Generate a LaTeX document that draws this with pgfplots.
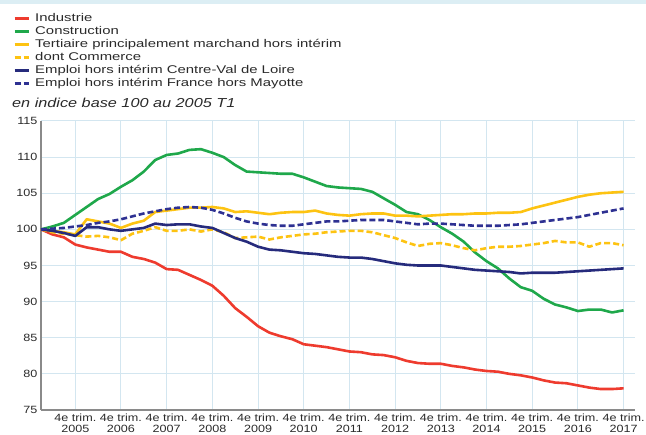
\documentclass[border=0pt]{standalone}
\usepackage{fontspec}
\setmainfont{Liberation Sans}
\newfontfamily\legfont{Liberation Sans}[FakeStretch=1.33]
\newfontfamily\tickfont{Liberation Sans}[FakeStretch=1.2]
\newfontfamily\subfont{Liberation Sans}[FakeStretch=1.25]
\usepackage{pgfplots}
\usepackage{pgfplotstable}
\pgfplotsset{compat=1.18}
\definecolor{cInd}{HTML}{EE3B2E}
\definecolor{cCon}{HTML}{1FA84B}
\definecolor{cTer}{HTML}{FDC312}
\definecolor{cCvl}{HTML}{262B7C}
\definecolor{cFra}{HTML}{2E3192}
\definecolor{cGrid}{HTML}{D3E6F0}
\definecolor{cAxis}{HTML}{8A8A8A}
\definecolor{cText}{HTML}{2A2A2A}
\definecolor{cBand}{HTML}{DCEEF4}
\pgfplotstableread{
q ind con ter com cvl fra
0 100 100 100 100 100 100
1 99.3 100.4 99.8 99.6 99.8 100.1
2 98.9 100.9 99.6 99.4 99.5 100.2
3 97.9 102.0 99.3 99.2 99.1 100.4
4 97.5 103.1 101.4 99.0 100.3 100.6
5 97.2 104.2 101.1 99.1 100.3 100.9
6 96.9 104.9 100.8 98.9 100.0 101.1
7 96.9 105.9 100.2 98.5 99.8 101.4
8 96.2 106.8 100.8 99.4 100.0 101.8
9 95.9 108.0 101.2 99.8 100.2 102.2
10 95.4 109.6 102.4 100.3 100.8 102.5
11 94.5 110.3 102.6 99.8 100.6 102.8
12 94.4 110.5 102.8 99.8 100.7 103.0
13 93.7 111.0 103.0 100.0 100.7 103.1
14 93.0 111.1 103.0 99.7 100.4 103.0
15 92.2 110.6 103.1 100.0 100.2 102.7
16 90.8 110.0 102.9 99.6 99.5 102.2
17 89.1 108.9 102.4 98.8 98.8 101.6
18 87.9 108.0 102.5 98.9 98.3 101.1
19 86.6 107.9 102.3 99.0 97.6 100.8
20 85.7 107.8 102.1 98.6 97.2 100.6
21 85.2 107.7 102.3 98.9 97.1 100.5
22 84.8 107.7 102.4 99.1 96.9 100.5
23 84.1 107.2 102.4 99.3 96.7 100.7
24 83.9 106.6 102.6 99.4 96.6 100.9
25 83.7 106.0 102.2 99.6 96.4 101.1
26 83.4 105.8 102.0 99.7 96.2 101.1
27 83.1 105.7 101.9 99.8 96.1 101.2
28 83.0 105.6 102.1 99.8 96.1 101.3
29 82.7 105.2 102.2 99.6 95.9 101.3
30 82.6 104.3 102.2 99.2 95.6 101.3
31 82.3 103.4 101.9 98.8 95.3 101.1
32 81.8 102.4 101.9 98.2 95.1 100.9
33 81.5 102.1 101.8 97.7 95.0 100.7
34 81.4 101.3 101.9 98.0 95.0 100.8
35 81.4 100.3 102.0 98.1 95.0 100.8
36 81.1 99.4 102.1 97.8 94.8 100.7
37 80.9 98.3 102.1 97.4 94.6 100.6
38 80.6 96.8 102.2 97.1 94.4 100.5
39 80.4 95.6 102.2 97.4 94.3 100.5
40 80.3 94.6 102.3 97.6 94.2 100.5
41 80.0 93.2 102.3 97.6 94.1 100.6
42 79.8 92.0 102.4 97.7 93.9 100.7
43 79.5 91.5 102.9 97.9 94.0 100.9
44 79.1 90.4 103.3 98.1 94.0 101.1
45 78.8 89.6 103.7 98.4 94.0 101.3
46 78.7 89.2 104.1 98.2 94.1 101.5
47 78.4 88.7 104.5 98.2 94.2 101.7
48 78.1 88.9 104.8 97.6 94.3 102.0
49 77.9 88.9 105.0 98.1 94.4 102.3
50 77.9 88.5 105.1 98.1 94.5 102.6
51 78.0 88.8 105.2 97.8 94.6 102.9
}\datatable
\begin{document}
\begin{tikzpicture}
\path[use as bounding box] (0,0) rectangle (646bp,435bp);
\fill[cBand] (0,431bp) rectangle (646bp,435bp);
\begin{axis}[
  at={(41bp,25bp)}, anchor=south west,
  scale only axis, width=594bp, height=289bp,
  xmin=0, xmax=52, ymin=75, ymax=115,
  axis lines=left, axis line style={-, cAxis, line width=1.6bp},
  xtick={3,7,11,15,19,23,27,31,35,39,43,47,51},
  xticklabels={{4e trim.\\2005},{4e trim.\\2006},{4e trim.\\2007},{4e trim.\\2008},{4e trim.\\2009},{4e trim.\\2010},{4e trim.\\2011},{4e trim.\\2012},{4e trim.\\2013},{4e trim.\\2014},{4e trim.\\2015},{4e trim.\\2016},{4e trim.\\2017}},
  ytick={75,80,...,115},
  major tick length=0pt,
  grid=major, major grid style={cGrid, line width=1bp},
  xticklabel style={align=center, yshift=-0.5bp, font=\tickfont\fontsize{10.5bp}{10.8bp}\selectfont, text=cText},
  yticklabel style={font=\tickfont\fontsize{10.5bp}{12bp}\selectfont, text=cText},
  /pgf/number format/assume math mode=true,
  legend cell align=left,
  legend image code/.code={\draw[#1, line width=3bp] (0bp,0bp) -- (14bp,0bp);},
  legend style={at={(axis description cs:-0.0471,1.377)}, anchor=north west,
    draw=none, fill=none, inner sep=0pt, row sep=0pt,
    font=\legfont\fontsize{11.2bp}{12.9bp}\selectfont, text=cText,
    nodes={inner xsep=3bp, inner ysep=0.75bp, text height=8.8bp, text depth=2.6bp},
    /tikz/every odd column/.append style={column sep=2bp}},
  every axis plot/.append style={line width=2.6bp, line join=round},
  clip=false
]
\addplot[cInd] table[x=q, y=ind] {\datatable};
\addlegendentry{Industrie}
\addplot[cCon] table[x=q, y=con] {\datatable};
\addlegendentry{Construction}
\addplot[cTer] table[x=q, y=ter] {\datatable};
\addlegendentry{Tertiaire principalement marchand hors intérim}
\addplot[cTer, dash pattern=on 6bp off 3bp] table[x=q, y=com] {\datatable};
\addlegendentry{dont Commerce}
\addplot[cCvl] table[x=q, y=cvl] {\datatable};
\addlegendentry{Emploi hors intérim Centre-Val de Loire}
\addplot[cFra, dash pattern=on 6bp off 3bp] table[x=q, y=fra] {\datatable};
\addlegendentry{Emploi hors intérim France hors Mayotte}
\end{axis}
\node[anchor=base west, inner sep=0pt, text=cText, font=\subfont\itshape\fontsize{13bp}{15bp}\selectfont] at (12bp,327.5bp) {en indice base 100 au 2005 T1};
\end{tikzpicture}
\end{document}
